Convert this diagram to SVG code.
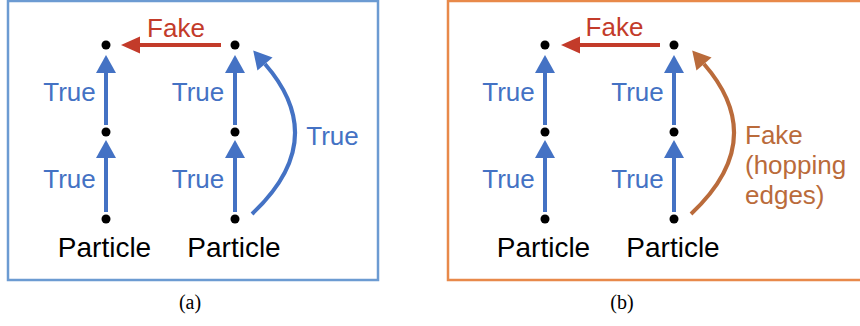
<svg xmlns="http://www.w3.org/2000/svg" width="860" height="326" viewBox="0 0 860 326">
<style>
.t{font-family:"Liberation Sans",Arial,sans-serif;font-size:26px;text-anchor:middle}
.blue{fill:#4472C4}
.red{fill:#C33B2A}
.org{fill:#BA6B3B}
.blk{fill:#000}
.p{font-size:28px}
.cap{font-family:"Liberation Serif","Times New Roman",serif;font-size:20px;text-anchor:middle;fill:#000}
.eb{stroke:#4472C4;stroke-width:4;fill:none}
.er{stroke:#C33B2A;stroke-width:4;fill:none}
.eo{stroke:#BA6B3B;stroke-width:4;fill:none}
.dot{fill:#000}
</style>
<defs>
<marker id="hb" markerUnits="userSpaceOnUse" markerWidth="20" markerHeight="20" viewBox="0 -10 18 20" refX="0" refY="0" orient="auto"><path d="M0,-10 L18,0 L0,10 Z" fill="#4472C4"/></marker>
<marker id="hr" markerUnits="userSpaceOnUse" markerWidth="20" markerHeight="20" viewBox="0 -10 19 20" refX="0" refY="0" orient="auto"><path d="M0,-8.5 L19,0 L0,8.5 Z" fill="#C33B2A"/></marker>
<marker id="ho" markerUnits="userSpaceOnUse" markerWidth="20" markerHeight="20" viewBox="0 -10 18 20" refX="0" refY="0" orient="auto"><path d="M0,-10 L18,0 L0,10 Z" fill="#BA6B3B"/></marker>
</defs>
<g id="panel-a-frame"><rect x="8" y="1" width="370" height="279" fill="none" stroke="#6C9BD2" stroke-width="2.5"/></g>
<g id="panel-b-frame"><rect x="448" y="1" width="420" height="279" fill="none" stroke="#E8894A" stroke-width="2.5"/></g>
<g id="connectors">
<path class="eb" d="M106,212 L106,158" marker-end="url(#hb)"/>
<path class="eb" d="M106,125 L106,73" marker-end="url(#hb)"/>
<path class="eb" d="M235,212 L235,158" marker-end="url(#hb)"/>
<path class="eb" d="M235,125 L235,73" marker-end="url(#hb)"/>
<path class="er" d="M221,45 L140,45" marker-end="url(#hr)"/>
<path class="eb" d="M252,214 Q331,140 265,64" marker-end="url(#hb)"/>
<path class="eb" d="M545,212 L545,158" marker-end="url(#hb)"/>
<path class="eb" d="M545,125 L545,73" marker-end="url(#hb)"/>
<path class="eb" d="M674,212 L674,158" marker-end="url(#hb)"/>
<path class="eb" d="M674,125 L674,73" marker-end="url(#hb)"/>
<path class="er" d="M660,45 L580,45" marker-end="url(#hr)"/>
<path class="eo" d="M691,214 Q770,140 704,64" marker-end="url(#ho)"/>
</g>
<g id="a-n1"><circle class="dot" cx="106" cy="45" r="4.5"/></g>
<g id="a-n2"><circle class="dot" cx="106" cy="132" r="4.5"/></g>
<g id="a-n3"><circle class="dot" cx="106" cy="219" r="4.5"/><text class="t blk p" x="104.5" y="257">Particle</text></g>
<g id="a-n4"><circle class="dot" cx="235" cy="45" r="4.5"/></g>
<g id="a-n5"><circle class="dot" cx="235" cy="132" r="4.5"/></g>
<g id="a-n6"><circle class="dot" cx="235" cy="219" r="4.5"/><text class="t blk p" x="234" y="257">Particle</text></g>
<g id="b-n1"><circle class="dot" cx="545" cy="45" r="4.5"/></g>
<g id="b-n2"><circle class="dot" cx="545" cy="132" r="4.5"/></g>
<g id="b-n3"><circle class="dot" cx="545" cy="219" r="4.5"/><text class="t blk p" x="543.5" y="257">Particle</text></g>
<g id="b-n4"><circle class="dot" cx="674" cy="45" r="4.5"/></g>
<g id="b-n5"><circle class="dot" cx="674" cy="132" r="4.5"/></g>
<g id="b-n6"><circle class="dot" cx="674" cy="219" r="4.5"/><text class="t blk p" x="673" y="257">Particle</text></g>
<g id="labels">
<text class="t red" x="176" y="37">Fake</text>
<text class="t blue" x="69.5" y="101">True</text>
<text class="t blue" x="69.5" y="188">True</text>
<text class="t blue" x="198" y="101">True</text>
<text class="t blue" x="198" y="188">True</text>
<text class="t blue" x="332.5" y="145">True</text>
<text class="t red" x="614.5" y="36">Fake</text>
<text class="t blue" x="508.5" y="101">True</text>
<text class="t blue" x="508.5" y="188">True</text>
<text class="t blue" x="637.5" y="101">True</text>
<text class="t blue" x="637.5" y="188">True</text>
<text class="t org" x="745" y="144" style="text-anchor:start">Fake</text>
<text class="t org" x="745" y="174" style="text-anchor:start">(hopping</text>
<text class="t org" x="745" y="204" style="text-anchor:start">edges)</text>
<text class="cap" x="190" y="309">(a)</text>
<text class="cap" x="622" y="309">(b)</text>
</g>
</svg>
